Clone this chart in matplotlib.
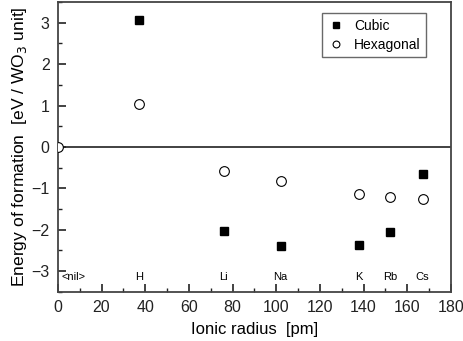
import matplotlib
matplotlib.use("Agg")
import matplotlib.pyplot as plt
from matplotlib.ticker import MultipleLocator

plt.rcParams['font.family'] = ['Liberation Sans', 'DejaVu Sans']

elements = ["<nil>", "H", "Li", "Na", "K", "Rb", "Cs"]
radius = [0, 37, 76, 102, 138, 152, 167]
cubic_x = [37, 76, 102, 138, 152, 167]
cubic_e = [3.07, -2.03, -2.39, -2.37, -2.05, -0.65]
hex_x = [0, 37, 76, 102, 138, 152, 167]
hex_e = [0.0, 1.04, -0.57, -0.82, -1.14, -1.21, -1.26]

fig = plt.figure(figsize=(4.63, 3.41), dpi=100)
ax = fig.add_axes([0.125, 0.144, 0.849, 0.85])

ax.axhline(0, color='#333333', lw=1.3, zorder=1)
ax.plot(cubic_x, cubic_e, 's', color='black', ms=6, label='Cubic', clip_on=False, zorder=3)
ax.plot(hex_x, hex_e, 'o', mfc='white', mec='black', mew=0.8, ms=7, label='Hexagonal', clip_on=True, zorder=3)

for name, xx in zip(elements, radius):
    if name == "<nil>":
        ax.text(xx + 1.5, -3.15, name, fontsize=8, ha='left', va='center')
    else:
        ax.text(xx, -3.15, name, fontsize=8, ha='center', va='center')

ax.set_xlim(0, 180)
ax.set_ylim(-3.5, 3.5)
ax.xaxis.set_major_locator(MultipleLocator(20))
ax.xaxis.set_minor_locator(MultipleLocator(10))
ax.yaxis.set_major_locator(MultipleLocator(1))
ax.yaxis.set_minor_locator(MultipleLocator(0.5))
ax.tick_params(which='both', direction='in', labelsize=11.5, colors='#222222')
ax.tick_params(which='major', length=6, width=1.2, pad=6)
ax.tick_params(which='minor', length=3, width=1)
for s in ax.spines.values():
    s.set_color('#444444')
    s.set_linewidth(1.3)

ax.set_xlabel('Ionic radius  [pm]', fontsize=12, labelpad=5)
ax.set_ylabel('Energy of formation  [eV / WO$_3$ unit]', fontsize=12.6, labelpad=2)

leg = ax.legend(loc='upper right', fontsize=10, frameon=True, fancybox=False,
                edgecolor='#444444', borderpad=0.4, handletextpad=0.7,
                handlelength=1.2, markerscale=0.7, labelspacing=0.35,
                bbox_to_anchor=(0.955, 0.985))
leg.get_frame().set_linewidth(1.0)

fig.savefig('out.png', dpi=100)
